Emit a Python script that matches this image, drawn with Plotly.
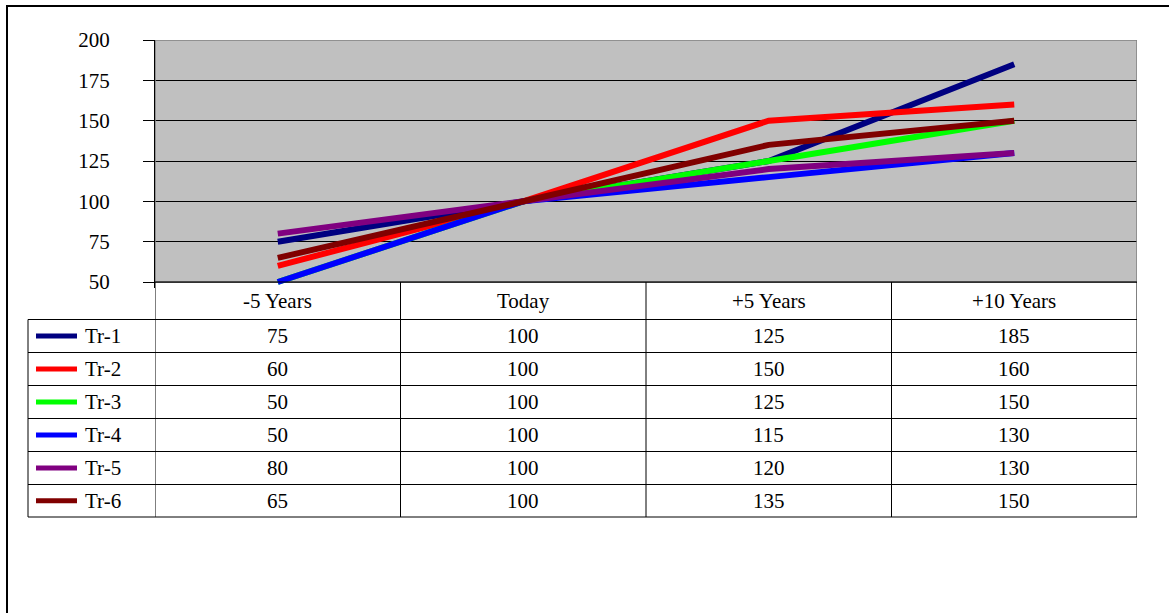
import plotly.graph_objects as go

# --- data -------------------------------------------------------------
categories = ["-5 Years", "Today", "+5 Years", "+10 Years"]
series_names = ["Tr-1", "Tr-2", "Tr-3", "Tr-4", "Tr-5", "Tr-6"]
tr1 = [75, 100, 125, 185]
tr2 = [60, 100, 150, 160]
tr3 = [50, 100, 125, 150]
tr4 = [50, 100, 115, 130]
tr5 = [80, 100, 120, 130]
tr6 = [65, 100, 135, 150]
series_values = [tr1, tr2, tr3, tr4, tr5, tr6]
y_ticks = [50, 75, 100, 125, 150, 175, 200]

colors = ["#000080", "#FF0000", "#00FF00", "#0000FF", "#800080", "#800000"]

# --- page geometry (pixels) --------------------------------------------
W, H = 1169, 613
FONT = "Liberation Serif, Times New Roman, serif"
FS = 21


def px(x):
    return x / W


def py(y):
    return 1 - y / H


plot_left, plot_right = 155, 1137
plot_top, plot_bottom = 40, 282
y_lo, y_hi = 50, 200
scale = (plot_bottom - plot_top) / (y_hi - y_lo)
y_pad = 4  # extra value room under the axis so thick lines are not cut
domain_bottom = plot_bottom + y_pad * scale

table_left = 28
row_edges = [282, 319.5, 352.5, 385.5, 418.5, 451.5, 484.5, 517]

fig = go.Figure()
xs = list(range(len(categories)))
for name, vals, col in zip(series_names, series_values, colors):
    fig.add_trace(go.Scatter(
        x=xs, y=vals, mode="lines", name=name,
        line=dict(color=col, width=6),
        hoverinfo="name+y",
    ))

shapes = []
# plot area fill
shapes.append(dict(type="rect", xref="x", yref="y", x0=-0.5, x1=len(categories) - 0.5,
                   y0=y_lo, y1=y_hi, fillcolor="#C0C0C0", line=dict(width=0), layer="below"))
# plot area outline (grey top / right)
shapes.append(dict(type="rect", xref="x", yref="y", x0=-0.5, x1=len(categories) - 0.5,
                   y0=y_lo, y1=y_hi, fillcolor="rgba(0,0,0,0)",
                   line=dict(color="#808080", width=1.5), layer="between"))

# data table grid
line_style = dict(color="black", width=1)
shapes.append(dict(type="line", xref="paper", yref="paper",
                   x0=px(plot_left), x1=px(plot_right), y0=py(row_edges[0]), y1=py(row_edges[0]),
                   line=line_style))
for yy in row_edges[1:]:
    shapes.append(dict(type="line", xref="paper", yref="paper",
                       x0=px(table_left), x1=px(plot_right), y0=py(yy), y1=py(yy),
                       line=line_style))
shapes.append(dict(type="line", xref="paper", yref="paper",
                   x0=px(table_left), x1=px(table_left), y0=py(row_edges[1]), y1=py(row_edges[-1]),
                   line=line_style))
for j in range(len(categories) + 1):
    shapes.append(dict(type="line", xref="x", yref="paper",
                       x0=j - 0.5, x1=j - 0.5, y0=py(row_edges[0]), y1=py(row_edges[-1]),
                       line=line_style))

annotations = []
# header row with category names
hdr_c = (row_edges[0] + row_edges[1]) / 2
for j, cat in enumerate(categories):
    annotations.append(dict(x=j, y=py(hdr_c), xref="x", yref="paper", text=cat,
                            showarrow=False, xanchor="center", yanchor="middle",
                            font=dict(family=FONT, size=FS, color="black")))

# series rows: legend key, name and values
for i, (name, vals, col) in enumerate(zip(series_names, series_values, colors)):
    yc = (row_edges[i + 1] + row_edges[i + 2]) / 2
    shapes.append(dict(type="line", xref="paper", yref="paper",
                       x0=px(36), x1=px(77), y0=py(yc), y1=py(yc),
                       line=dict(color=col, width=5)))
    annotations.append(dict(x=px(83), y=py(yc), xref="paper", yref="paper", text=name,
                            showarrow=False, xanchor="left", yanchor="middle",
                            font=dict(family=FONT, size=FS, color="black")))
    for j, v in enumerate(vals):
        annotations.append(dict(x=j, y=py(yc), xref="x", yref="paper", text=str(v),
                                showarrow=False, xanchor="center", yanchor="middle",
                                font=dict(family=FONT, size=FS, color="black")))

# outer chart border
shapes.append(dict(type="rect", xref="paper", yref="paper",
                   x0=px(7), x1=px(W + 10), y0=py(6), y1=py(H + 10),
                   line=dict(color="black", width=2), fillcolor="rgba(0,0,0,0)"))

fig.update_layout(
    width=W, height=H,
    margin=dict(l=0, r=0, t=0, b=0, autoexpand=False),
    paper_bgcolor="white",
    plot_bgcolor="rgba(0,0,0,0)",
    showlegend=False,
    shapes=shapes,
    annotations=annotations,
    xaxis=dict(domain=[px(plot_left), px(plot_right)], range=[-0.5, len(categories) - 0.5],
               showticklabels=False, showgrid=False, zeroline=False, ticks="",
               automargin=False, fixedrange=True),
    yaxis=dict(domain=[py(domain_bottom), py(plot_top)], range=[y_lo - y_pad, y_hi],
               tickvals=y_ticks, ticktext=[str(t) for t in y_ticks],
               ticks="outside", ticklen=11, tickcolor="black", tickwidth=1,
               ticklabelstandoff=29,
               showgrid=True, gridcolor="black", gridwidth=1,
               zeroline=False, showline=True, linecolor="black", linewidth=1,
               tickfont=dict(family=FONT, size=FS, color="black"),
               automargin=False, fixedrange=True),
)

fig.write_html("out.html")
